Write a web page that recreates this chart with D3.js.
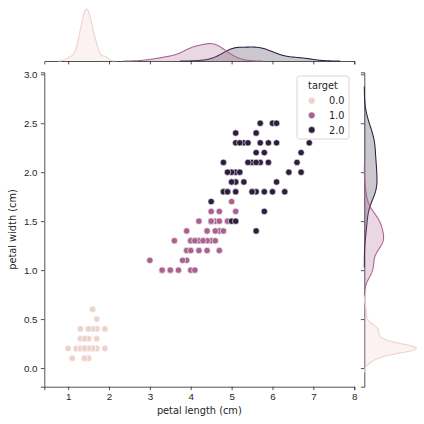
<!DOCTYPE html>
<html>
<head>
<meta charset="utf-8">
<script src="https://cdn.jsdelivr.net/npm/d3@7"></script>
<style>
  body { margin: 0; background: #fff; }
  svg { font-family: "DejaVu Sans", sans-serif; }
</style>
</head>
<body>
<div id="chart"></div>
<script>
// ## DATA (iris, petal measurements) ##
const targets = [0, 1, 2];
const targetLabels = ["0.0", "1.0", "2.0"];
const targetColors = ["#edd1cb", "#a9628f", "#2d1e3e"];

const petalLength = [
  1.4,1.4,1.3,1.5,1.4,1.7,1.4,1.5,1.4,1.5,1.5,1.6,1.4,1.1,1.2,1.5,1.3,1.4,1.7,1.5,
  1.7,1.5,1.0,1.7,1.9,1.6,1.6,1.5,1.4,1.6,1.6,1.5,1.5,1.4,1.5,1.2,1.3,1.4,1.3,1.5,
  1.3,1.3,1.3,1.6,1.9,1.4,1.6,1.4,1.5,1.4,
  4.7,4.5,4.9,4.0,4.6,4.5,4.7,3.3,4.6,3.9,3.5,4.2,4.0,4.7,3.6,4.4,4.5,4.1,4.5,3.9,
  4.8,4.0,4.9,4.7,4.3,4.4,4.8,5.0,4.5,3.5,3.8,3.7,3.9,5.1,4.5,4.5,4.7,4.4,4.1,4.0,
  4.4,4.6,4.0,3.3,4.2,4.2,4.2,4.3,3.0,4.1,
  6.0,5.1,5.9,5.6,5.8,6.6,4.5,6.3,5.8,6.1,5.1,5.3,5.5,5.0,5.1,5.3,5.5,6.7,6.9,5.0,
  5.7,4.9,6.7,4.9,5.7,6.0,4.8,4.9,5.6,5.8,6.1,6.4,5.6,5.1,5.6,6.1,5.6,5.5,4.8,5.4,
  5.6,5.1,5.1,5.9,5.7,5.2,5.0,5.2,5.4,5.1
];
const petalWidth = [
  0.2,0.2,0.2,0.2,0.2,0.4,0.3,0.2,0.2,0.1,0.2,0.2,0.1,0.1,0.2,0.4,0.4,0.3,0.3,0.3,
  0.2,0.4,0.2,0.5,0.2,0.2,0.4,0.2,0.2,0.2,0.2,0.4,0.1,0.2,0.2,0.2,0.2,0.1,0.2,0.2,
  0.3,0.3,0.2,0.6,0.4,0.3,0.2,0.2,0.2,0.2,
  1.4,1.5,1.5,1.3,1.5,1.3,1.6,1.0,1.3,1.4,1.0,1.5,1.0,1.4,1.3,1.4,1.5,1.0,1.5,1.1,
  1.8,1.3,1.5,1.2,1.3,1.4,1.4,1.7,1.5,1.0,1.1,1.0,1.2,1.6,1.5,1.6,1.5,1.3,1.3,1.3,
  1.2,1.4,1.2,1.0,1.3,1.2,1.3,1.3,1.1,1.3,
  2.5,1.9,2.1,1.8,2.2,2.1,1.7,1.8,1.8,2.5,2.0,1.9,2.1,2.0,2.4,2.3,1.8,2.2,2.3,1.5,
  2.3,2.0,2.0,1.8,2.1,1.8,1.8,1.8,2.1,1.6,1.9,2.0,2.2,1.5,1.4,2.3,2.4,1.8,2.1,2.1,
  2.4,2.3,1.9,2.3,2.5,2.3,1.9,2.0,2.3,1.8
];
const target = petalLength.map((d, i) => Math.floor(i / 50));

const xTicks = [1, 2, 3, 4, 5, 6, 7, 8];
const yTicks = [0.0, 0.5, 1.0, 1.5, 2.0, 2.5, 3.0];

// ## KDE helpers (gaussian, scott bandwidth, cut = 3, common norm) ##
function kde(values, total) {
  const n = values.length;
  const bw = d3.deviation(values) * Math.pow(n, -1 / 5);
  const lo = d3.min(values) - 3 * bw, hi = d3.max(values) + 3 * bw;
  const grid = d3.range(200).map(i => lo + (hi - lo) * i / 199);
  const k = 1 / (Math.sqrt(2 * Math.PI) * bw * total);
  return grid.map(g => [g, k * d3.sum(values, v => Math.exp(-0.5 * ((g - v) / bw) ** 2))]);
}

const xKde = targets.map(t => kde(petalLength.filter((d, i) => target[i] === t), petalLength.length));
const yKde = targets.map(t => kde(petalWidth.filter((d, i) => target[i] === t), petalWidth.length));

function paddedExtent(curves) {
  const ext = d3.extent(curves.flat(), d => d[0]);
  const pad = (ext[1] - ext[0]) * 0.05;
  return [ext[0] - pad, ext[1] + pad];
}

// ## LAYOUT ##
const W = 424, H = 424;
const main = { left: 44.3, right: 354.3, top: 72.3, bottom: 386.7 };
const topM = { top: 6.4, bottom: 61 };
const rightM = { left: 364.3, right: 419 };

const x = d3.scaleLinear().domain(paddedExtent(xKde)).range([main.left, main.right]);
const y = d3.scaleLinear().domain(paddedExtent(yKde)).range([main.bottom, main.top]);

const xDensMax = d3.max(xKde.flat(), d => d[1]);
const yDensMax = d3.max(yKde.flat(), d => d[1]);
const yTop = d3.scaleLinear().domain([0, xDensMax * 1.05]).range([topM.bottom, topM.top]);
const xRight = d3.scaleLinear().domain([0, yDensMax * 1.05]).range([rightM.left, rightM.right]);

const svg = d3.select("#chart").append("svg")
  .attr("width", W).attr("height", H)
  .style("font-size", "9.8px");

const tickLen = 3.4;
function styleAxis(g) {
  g.selectAll(".domain").attr("stroke", "#262626").attr("stroke-width", 0.8);
  g.selectAll(".tick line").attr("stroke", "#262626").attr("stroke-width", 0.8);
  g.selectAll(".tick text").attr("fill", "#262626").style("font-size", "9.8px");
}

// main axes
svg.append("g")
  .attr("transform", `translate(0,${main.bottom})`)
  .call(d3.axisBottom(x).tickValues(xTicks).tickFormat(d3.format("d")).tickSizeOuter(0).tickSize(tickLen).tickPadding(3.4))
  .call(styleAxis);

svg.append("g")
  .attr("transform", `translate(${main.left},0)`)
  .call(d3.axisLeft(y).tickValues(yTicks).tickFormat(d3.format(".1f")).tickSizeOuter(0).tickSize(tickLen).tickPadding(3.4))
  .call(styleAxis);

// marginal axes (ticks only)
svg.append("g")
  .attr("transform", `translate(0,${topM.bottom})`)
  .call(d3.axisBottom(x).tickValues(xTicks).tickFormat("").tickSizeOuter(0).tickSize(tickLen))
  .call(styleAxis);

svg.append("g")
  .attr("transform", `translate(${rightM.left},0)`)
  .call(d3.axisLeft(y).tickValues(yTicks).tickFormat("").tickSizeOuter(0).tickSize(tickLen))
  .call(styleAxis);

// axis labels
svg.append("text")
  .attr("x", (main.left + main.right) / 2).attr("y", 414)
  .attr("text-anchor", "middle").attr("fill", "#262626")
  .text("petal length (cm)");

svg.append("text")
  .attr("transform", `translate(15.5,${(main.top + main.bottom) / 2}) rotate(-90)`)
  .attr("text-anchor", "middle").attr("fill", "#262626")
  .text("petal width (cm)");

// marginal KDEs, drawn in reverse hue order
const topArea = d3.area().x(d => x(d[0])).y0(yTop(0)).y1(d => yTop(d[1]));
const topLine = d3.line().x(d => x(d[0])).y(d => yTop(d[1]));
const rightArea = d3.area().y(d => y(d[0])).x0(xRight(0)).x1(d => xRight(d[1]));
const rightLine = d3.line().y(d => y(d[0])).x(d => xRight(d[1]));

targets.slice().reverse().forEach(t => {
  svg.append("path").datum(xKde[t]).attr("d", topArea)
    .attr("fill", targetColors[t]).attr("fill-opacity", 0.25);
  svg.append("path").datum(xKde[t]).attr("d", topLine)
    .attr("fill", "none").attr("stroke", targetColors[t]).attr("stroke-width", 1.05);
  svg.append("path").datum(yKde[t]).attr("d", rightArea)
    .attr("fill", targetColors[t]).attr("fill-opacity", 0.25);
  svg.append("path").datum(yKde[t]).attr("d", rightLine)
    .attr("fill", "none").attr("stroke", targetColors[t]).attr("stroke-width", 1.05);
});

// scatter
svg.append("g")
  .selectAll("circle")
  .data(petalLength.map((d, i) => ({ x: d, y: petalWidth[i], t: target[i] })))
  .join("circle")
    .attr("cx", d => x(d.x))
    .attr("cy", d => y(d.y))
    .attr("r", 3.2)
    .attr("fill", d => targetColors[d.t])
    .attr("stroke", "#fff")
    .attr("stroke-width", 0.6);

// legend
const legend = svg.append("g").attr("transform", "translate(297,76)");
legend.append("rect")
  .attr("width", 52).attr("height", 63).attr("rx", 2.5)
  .attr("fill", "#fff").attr("fill-opacity", 0.8)
  .attr("stroke", "#cccccc").attr("stroke-width", 0.8);
legend.append("text")
  .attr("x", 26).attr("y", 13).attr("text-anchor", "middle").attr("fill", "#262626")
  .text("target");
targets.forEach((t, i) => {
  const cy = 24.7 + i * 14.6;
  legend.append("circle")
    .attr("cx", 14.7).attr("cy", cy).attr("r", 3.4)
    .attr("fill", targetColors[t]).attr("stroke", "#fff").attr("stroke-width", 0.6);
  legend.append("text")
    .attr("x", 32).attr("y", cy + 3.6).attr("fill", "#262626")
    .text(targetLabels[i]);
});
</script>
</body>
</html>
